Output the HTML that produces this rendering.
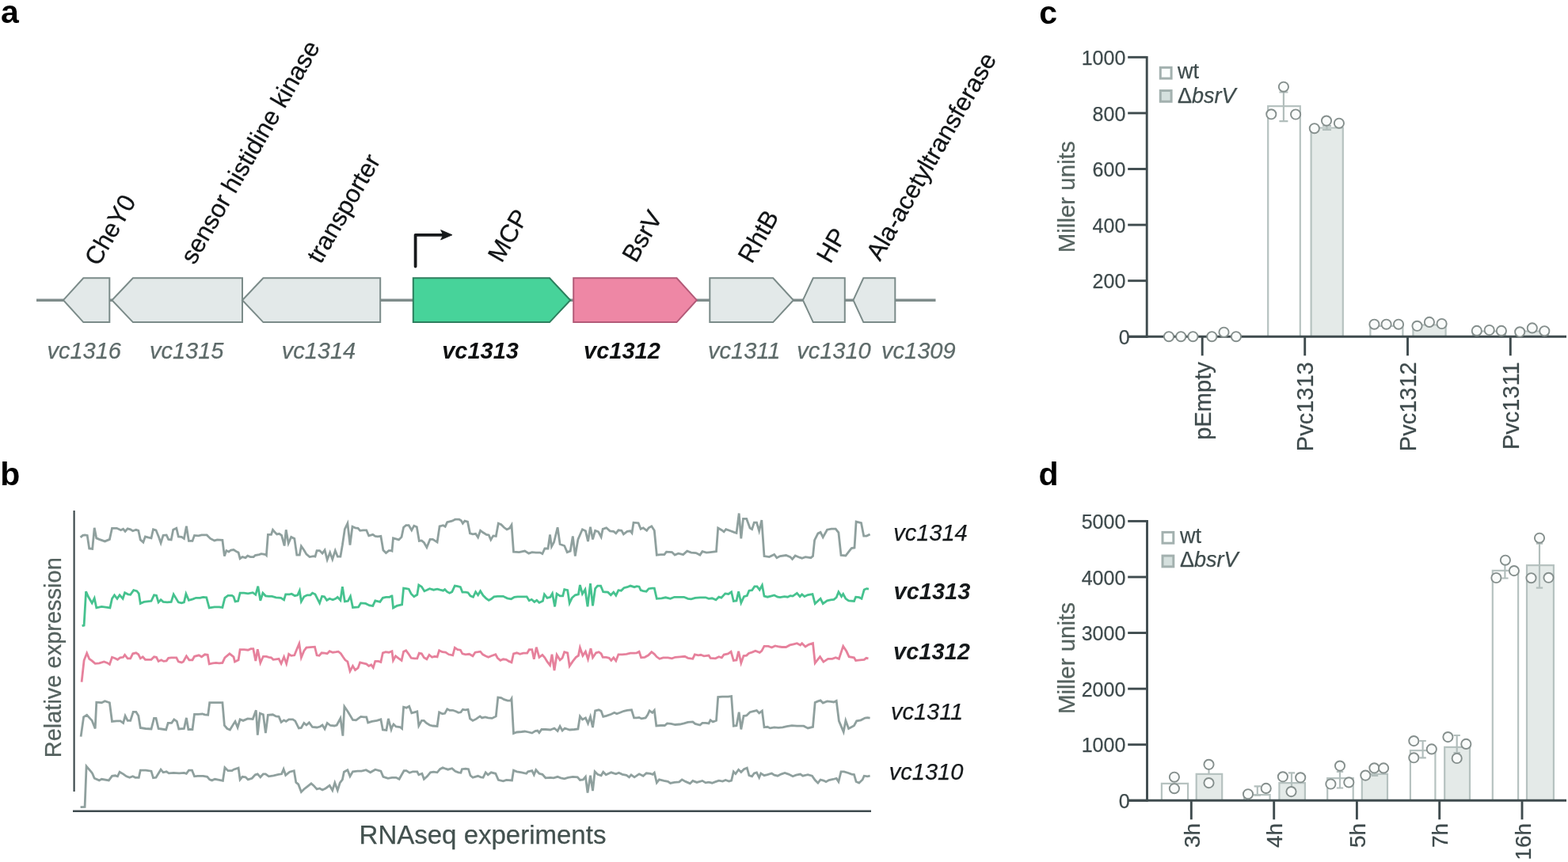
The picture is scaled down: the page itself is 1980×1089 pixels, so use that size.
<!DOCTYPE html>
<html><head><meta charset="utf-8"><title>Figure</title>
<style>
html,body{margin:0;padding:0;background:#fff;width:1980px;height:1089px;overflow:hidden;}
svg{display:block;}
text{font-family:'Liberation Sans', Arial, Helvetica, sans-serif;}
</style></head>
<body>
<svg width="1980" height="1089" viewBox="0 0 1980 1089">
<rect width="1980" height="1089" fill="#ffffff"/>
<text x="1.0" y="28.9" font-size="41" fill="#000" font-weight="bold">a</text>
<text x="0.2" y="612.9" font-size="41" fill="#000" font-weight="bold">b</text>
<text x="1312.3" y="29.9" font-size="41" fill="#000" font-weight="bold">c</text>
<text x="1311.5" y="612.9" font-size="41" fill="#000" font-weight="bold">d</text>
<line x1="46" y1="379.2" x2="1181.5" y2="379.2" stroke="#7f8c8b" stroke-width="3.6"/>
<polygon points="80,379.2 105.3,351.3 138.3,351.3 138.3,407.1 105.3,407.1" fill="#e3e9e9" stroke="#7b8b89" stroke-width="2" stroke-linejoin="miter"/>
<polygon points="141.4,379.2 167.9,351.3 306,351.3 306,407.1 167.9,407.1" fill="#e3e9e9" stroke="#7b8b89" stroke-width="2" stroke-linejoin="miter"/>
<polygon points="306,379.2 332.4,351.3 480.2,351.3 480.2,407.1 332.4,407.1" fill="#e3e9e9" stroke="#7b8b89" stroke-width="2" stroke-linejoin="miter"/>
<polygon points="521.8,351.3 694,351.3 720.2,379.2 694,407.1 521.8,407.1" fill="#47d39a" stroke="#2d7f5e" stroke-width="2" stroke-linejoin="miter"/>
<polygon points="724.2,351.3 854.5,351.3 879.8,379.2 854.5,407.1 724.2,407.1" fill="#ee87a5" stroke="#b35a78" stroke-width="2" stroke-linejoin="miter"/>
<polygon points="896.3,351.3 976.2,351.3 1001.9,379.2 976.2,407.1 896.3,407.1" fill="#e3e9e9" stroke="#7b8b89" stroke-width="2" stroke-linejoin="miter"/>
<polygon points="1013.9,379.2 1026.8,351.3 1066.8,351.3 1066.8,407.1 1026.8,407.1" fill="#e3e9e9" stroke="#7b8b89" stroke-width="2" stroke-linejoin="miter"/>
<polygon points="1077.5,379.2 1090.3,351.3 1130.3,351.3 1130.3,407.1 1090.3,407.1" fill="#e3e9e9" stroke="#7b8b89" stroke-width="2" stroke-linejoin="miter"/>
<polyline points="524.6,336.5 524.6,296.8 561,296.8" fill="none" stroke="#16191b" stroke-width="3.8" stroke-linecap="round" stroke-linejoin="round"/>
<polygon points="571,296.8 556.6,290.6 559.6,296.8 556.6,303.0" fill="#16191b" stroke="#16191b" stroke-width="0.8" stroke-linejoin="round"/>
<text x="106.2" y="452.5" font-size="29" fill="#5d6a69" stroke="#5d6a69" stroke-width="0.25" font-style="italic" text-anchor="middle">vc1316</text>
<text x="235.7" y="452.5" font-size="29" fill="#5d6a69" stroke="#5d6a69" stroke-width="0.25" font-style="italic" text-anchor="middle">vc1315</text>
<text x="402.5" y="452.5" font-size="29" fill="#5d6a69" stroke="#5d6a69" stroke-width="0.25" font-style="italic" text-anchor="middle">vc1314</text>
<text x="606.6" y="452.5" font-size="29" fill="#0d0f10" font-weight="bold" font-style="italic" text-anchor="middle">vc1313</text>
<text x="785.4" y="452.5" font-size="29" fill="#0d0f10" font-weight="bold" font-style="italic" text-anchor="middle">vc1312</text>
<text x="939.7" y="452.5" font-size="29" fill="#5d6a69" stroke="#5d6a69" stroke-width="0.25" font-style="italic" text-anchor="middle">vc1311</text>
<text x="1053.0" y="452.5" font-size="29" fill="#5d6a69" stroke="#5d6a69" stroke-width="0.25" font-style="italic" text-anchor="middle">vc1310</text>
<text x="1159.8" y="452.5" font-size="29" fill="#5d6a69" stroke="#5d6a69" stroke-width="0.25" font-style="italic" text-anchor="middle">vc1309</text>
<text x="124.3" y="337.5" font-size="31.5" fill="#111416" stroke="#111416" stroke-width="0.25" transform="rotate(-60 124.3 337.5)">CheY0</text>
<text x="245.4" y="335.4" font-size="31.5" fill="#111416" stroke="#111416" stroke-width="0.25" transform="rotate(-60 245.4 335.4)">sensor histidine kinase</text>
<text x="405.0" y="334.6" font-size="31.5" fill="#111416" stroke="#111416" stroke-width="0.25" transform="rotate(-60 405.0 334.6)">transporter</text>
<text x="633.5" y="333.3" font-size="31.5" fill="#111416" stroke="#111416" stroke-width="0.25" transform="rotate(-60 633.5 333.3)">MCP</text>
<text x="803.1" y="333.3" font-size="31.5" fill="#111416" stroke="#111416" stroke-width="0.25" transform="rotate(-60 803.1 333.3)">BsrV</text>
<text x="949.3" y="334.2" font-size="31.5" fill="#111416" stroke="#111416" stroke-width="0.25" transform="rotate(-60 949.3 334.2)">RhtB</text>
<text x="1048.5" y="334.2" font-size="31.5" fill="#111416" stroke="#111416" stroke-width="0.25" transform="rotate(-60 1048.5 334.2)">HP</text>
<text x="1111.2" y="330.9" font-size="31.5" fill="#111416" stroke="#111416" stroke-width="0.25" transform="rotate(-60 1111.2 330.9)">Ala-acetyltransferase</text>
<line x1="93.6" y1="645" x2="93.6" y2="1000" stroke="#3f4b4e" stroke-width="2.2"/>
<line x1="92" y1="1024.7" x2="1100" y2="1024.7" stroke="#3f4b4e" stroke-width="2.6"/>
<text x="77.3" y="957.3" font-size="29" fill="#55625f" stroke="#55625f" stroke-width="0.25" transform="rotate(-90 77.3 957.3)">Relative expression</text>
<text x="453.6" y="1066.4" font-size="33" fill="#43514f" stroke="#43514f" stroke-width="0.25">RNAseq experiments</text>
<text x="1128.2" y="683.3" font-size="29" fill="#15191b" stroke="#15191b" stroke-width="0.25" font-style="italic">vc1314</text>
<text x="1128.5" y="757.3" font-size="29" fill="#15191b" font-weight="bold" font-style="italic">vc1313</text>
<text x="1128.0" y="833.0" font-size="29" fill="#15191b" font-weight="bold" font-style="italic">vc1312</text>
<text x="1124.9" y="908.8" font-size="29" fill="#15191b" stroke="#15191b" stroke-width="0.25" font-style="italic">vc1311</text>
<text x="1122.8" y="984.6" font-size="29" fill="#15191b" stroke="#15191b" stroke-width="0.25" font-style="italic">vc1310</text>
<polyline points="101.6,678.9 104.6,676.4 107.1,675.9 110.2,676.4 112.7,693.0 116.7,693.5 119.2,666.8 121.8,679.9 125.3,681.4 132.4,683.9 138.4,681.4 141.5,667.3 147.5,667.3 152.6,669.8 155.6,668.3 158.1,671.3 161.2,667.8 164.7,668.8 167.7,670.8 171.8,669.3 174.8,670.3 177.3,681.9 180.9,685.0 183.4,677.9 186.9,678.9 191.0,679.9 193.5,668.8 197.0,669.8 200.1,677.4 203.1,686.0 206.1,676.4 210.2,675.9 212.7,681.4 216.2,681.9 218.7,669.3 222.8,667.3 225.3,677.9 229.3,678.4 232.4,680.4 235.4,664.8 238.4,683.4 243.0,683.4 245.5,676.4 250.6,676.9 254.6,675.9 257.6,675.9 261.2,675.9 265.7,680.4 270.8,682.9 274.3,681.9 280.9,682.4 283.4,702.6 285.9,695.6 288.9,697.1 291.5,695.0 295.0,694.5 299.0,697.1 301.1,698.1 303.1,705.7 306.1,703.6 310.1,704.6 312.7,702.1 316.2,703.6 320.2,703.6 322.3,701.6 327.3,700.6 329.9,699.6 335.4,700.6 336.4,701.6 338.4,675.4 342.5,675.4 344.5,669.3 347.5,672.8 349.6,674.9 352.6,674.3 355.6,676.4 359.1,689.5 361.2,669.3 364.2,686.5 367.7,678.4 371.8,680.4 374.8,701.1 378.3,701.1 380.4,690.0 383.9,695.0 386.9,700.1 391.0,703.6 396.0,702.6 398.0,703.1 400.1,695.6 403.6,695.6 407.1,699.1 410.1,695.0 413.2,707.2 416.7,698.1 419.8,706.7 423.3,695.6 426.3,703.1 429.9,703.1 432.4,688.5 435.4,668.3 438.9,661.2 442.0,688.5 445.0,665.2 448.5,666.8 452.1,667.3 454.6,670.3 458.6,669.8 462.7,669.8 465.7,676.9 470.8,675.4 473.8,677.4 476.8,677.9 480.9,677.4 483.9,695.0 487.4,698.6 491.0,695.6 494.0,695.6 495.0,696.1 496.5,679.9 500.1,680.9 503.6,681.9 507.1,678.4 509.6,666.3 512.7,663.7 516.2,663.7 519.8,669.8 522.8,664.2 526.3,665.8 529.3,683.4 532.4,682.9 535.4,685.5 538.9,691.5 543.0,681.4 546.5,681.4 552.1,685.0 555.1,664.8 559.6,663.7 562.2,665.2 564.7,659.7 570.8,658.2 574.8,656.2 579.9,656.2 582.4,657.7 584.4,661.2 586.9,658.2 590.5,659.2 593.5,673.8 597.0,674.9 600.6,674.3 603.6,678.9 606.6,670.3 610.1,672.8 614.2,675.4 617.2,675.9 619.8,681.9 622.8,676.9 626.3,677.4 629.3,661.2 632.9,662.7 636.4,666.3 640.0,668.8 643.5,667.3 646.0,663.2 648.5,697.1 655.6,697.6 662.7,696.1 667.7,699.1 671.8,697.6 676.8,698.1 681.9,698.1 684.9,699.6 687.9,693.0 692.0,693.0 694.5,675.4 695.0,679.4 696.5,690.5 699.5,685.0 704.1,666.3 707.1,687.5 712.7,689.5 716.2,697.6 720.2,696.1 723.3,677.4 726.3,702.6 729.9,681.4 735.4,668.8 739.4,670.8 742.5,683.9 745.5,665.8 748.5,681.4 751.6,670.3 755.6,671.8 759.1,678.4 761.2,668.3 765.7,666.8 770.2,670.8 774.8,671.3 777.8,673.8 780.9,669.8 784.9,670.3 787.4,674.9 792.0,671.3 796.0,670.8 798.0,673.3 800.0,660.2 806.1,660.7 809.1,668.3 812.2,666.8 816.7,670.3 819.2,666.8 822.8,664.8 826.3,670.3 829.3,701.1 834.4,700.6 838.9,700.6 841.5,697.1 848.5,697.6 852.1,701.1 856.6,699.1 862.7,700.6 867.7,696.1 872.8,698.1 878.8,698.6 883.9,701.1 886.9,696.6 892.0,698.1 895.0,697.8 899.2,697.3 904.5,696.7 906.7,667.0 911.4,669.7 914.1,671.8 916.7,668.6 922.6,670.8 926.8,672.4 930.0,673.4 933.2,648.5 935.8,680.3 938.5,655.4 942.7,655.4 947.0,667.0 949.6,668.6 952.3,660.1 955.5,660.1 958.6,670.8 961.8,657.0 965.0,702.6 971.4,703.6 977.7,700.5 980.9,704.7 985.1,702.6 992.6,701.5 997.9,703.6 1000.5,706.3 1004.2,702.0 1009.5,704.2 1012.7,705.2 1017.0,703.6 1023.9,704.7 1026.5,702.6 1028.6,682.4 1032.9,673.9 1036.1,672.4 1039.2,678.7 1044.5,669.2 1049.8,668.1 1055.2,668.1 1058.9,672.9 1062.0,701.5 1067.9,702.0 1073.2,695.1 1075.3,692.5 1079.0,692.0 1081.1,659.1 1087.5,660.7 1090.7,677.1 1094.4,677.1 1098.6,675.0" fill="none" stroke="#8fa09e" stroke-width="2.8" stroke-linejoin="miter" stroke-miterlimit="4"/>
<polyline points="103.6,790.7 106.1,790.1 108.6,747.2 111.2,753.3 116.2,761.9 119.2,755.8 121.8,767.9 128.3,766.4 135.4,767.4 138.9,767.9 141.5,756.3 144.5,751.8 148.0,756.3 151.1,751.8 155.1,756.3 157.6,748.7 161.7,750.8 164.7,751.3 168.7,745.7 172.8,746.7 175.3,749.8 177.3,762.4 181.9,760.4 185.9,759.9 191.0,759.3 194.5,751.8 197.5,752.3 200.1,760.9 203.1,757.8 206.1,760.4 211.2,760.9 216.2,760.4 219.2,750.8 225.3,760.9 229.3,761.9 232.4,760.9 234.9,750.2 238.4,758.3 243.5,756.8 247.5,755.3 252.6,755.3 256.6,754.3 260.7,754.8 264.2,767.9 270.8,766.9 276.8,766.9 280.9,767.4 283.9,755.3 287.9,752.3 293.0,752.3 295.0,753.8 297.0,759.9 300.6,759.3 303.1,749.2 308.1,749.2 313.2,749.8 319.2,748.7 322.8,751.3 325.8,740.7 328.8,758.8 331.9,749.2 335.4,752.8 339.4,753.3 343.5,753.3 348.5,754.8 354.6,755.3 358.6,757.8 360.7,750.8 365.7,750.8 368.2,750.2 372.3,752.8 375.8,751.8 378.3,746.2 380.4,759.9 383.9,753.8 387.9,751.8 392.0,751.8 394.5,749.2 398.0,750.8 403.6,761.9 406.6,753.3 409.6,753.8 412.7,758.3 416.2,756.3 420.2,757.8 423.8,756.3 426.3,754.3 429.9,758.3 432.4,741.2 435.4,759.9 439.4,759.3 442.5,753.3 445.5,767.4 452.6,766.9 455.6,761.9 461.7,762.4 466.7,764.9 470.8,765.4 473.8,758.8 479.9,760.4 483.4,755.3 487.4,754.3 492.0,754.3 494.5,752.8 495.0,752.8 496.5,767.9 501.1,765.4 505.1,764.4 507.6,763.9 509.6,743.2 513.2,743.7 516.2,744.2 519.2,750.2 522.8,753.8 526.8,751.3 528.8,739.1 532.4,741.2 535.9,746.7 539.4,745.2 542.5,743.7 547.5,745.2 552.1,744.2 555.6,745.2 559.6,746.2 561.7,744.7 564.7,747.7 567.7,749.2 570.8,747.7 574.3,740.1 577.8,740.7 581.4,741.7 583.9,748.2 587.9,748.2 591.0,748.7 594.0,752.8 597.5,754.3 600.6,747.7 603.6,751.8 606.6,746.7 610.1,752.3 613.7,755.8 617.2,758.3 620.2,756.8 623.8,753.8 628.3,753.3 635.4,753.3 640.5,755.8 645.5,756.8 649.5,754.3 653.6,753.8 658.6,753.8 665.2,753.8 668.2,758.8 671.3,757.3 674.8,760.4 677.8,758.3 680.9,761.4 685.4,759.3 687.4,750.8 691.0,755.3 695.0,754.3 697.5,749.8 700.6,766.4 703.1,750.2 707.1,752.8 710.7,752.8 712.7,744.7 716.7,745.7 719.2,761.9 722.3,755.3 726.3,751.8 730.4,750.8 732.4,739.1 735.4,750.2 738.9,744.7 742.0,766.4 745.5,737.1 748.5,765.4 751.6,743.7 754.6,740.1 758.6,740.1 761.7,747.7 767.7,748.2 771.3,751.8 774.8,748.2 777.8,752.3 780.9,745.7 784.4,746.2 787.9,742.7 792.0,741.7 796.0,740.1 801.1,741.7 804.1,740.7 807.1,741.2 809.1,745.7 812.2,746.7 816.2,747.2 819.2,743.7 823.3,743.2 826.3,743.2 829.3,756.3 835.4,755.8 840.5,754.8 846.5,756.3 851.6,754.3 857.6,754.3 863.7,754.3 868.7,756.3 872.8,756.8 877.8,755.3 883.9,754.8 891.0,754.8 895.0,756.3 899.2,755.8 904.0,757.9 907.7,754.2 910.9,755.2 915.7,749.9 919.9,750.5 923.6,747.8 926.3,759.5 930.0,758.9 932.6,747.3 935.8,761.6 939.5,753.6 943.3,752.6 945.9,746.2 949.6,745.7 952.8,740.9 956.0,740.9 959.2,745.1 962.4,739.3 965.0,753.1 969.2,754.2 973.5,753.1 977.7,752.0 982.0,754.2 985.1,754.7 990.5,753.6 994.7,754.2 997.9,752.6 1001.1,753.1 1006.4,749.4 1010.1,753.6 1012.7,751.0 1015.9,753.6 1020.1,751.5 1026.0,750.5 1029.2,762.6 1036.1,756.3 1039.2,762.6 1044.5,758.9 1048.8,757.9 1053.0,757.4 1056.2,754.7 1058.9,747.8 1062.6,753.6 1064.7,750.5 1067.9,756.3 1071.6,758.9 1078.5,759.5 1080.6,754.2 1084.8,754.7 1088.0,756.3 1091.2,745.1 1094.4,743.6 1097.0,744.1" fill="none" stroke="#46c28f" stroke-width="2.8" stroke-linejoin="miter" stroke-miterlimit="4"/>
<polyline points="103.1,861.6 106.1,834.3 109.7,825.2 112.7,832.3 116.2,834.9 120.2,838.4 125.3,837.9 131.4,835.9 135.4,837.4 138.4,839.4 141.5,830.3 145.5,831.8 148.5,833.3 151.6,830.8 155.6,830.3 157.6,827.3 161.2,831.8 164.7,831.8 167.7,825.8 171.8,824.8 174.8,826.8 177.3,831.8 180.3,829.8 183.4,833.3 186.9,833.3 191.0,833.3 194.5,829.8 197.5,830.3 200.1,835.4 203.6,833.8 206.6,835.4 210.2,834.9 212.7,831.3 216.2,830.8 222.8,830.8 225.3,835.9 229.3,836.9 231.4,835.9 235.4,828.8 238.9,833.8 243.0,833.8 245.5,829.3 251.1,827.8 254.6,829.8 258.6,826.8 262.2,827.3 264.2,838.9 268.7,837.9 272.8,837.4 276.8,837.9 280.9,837.4 283.9,830.8 289.9,825.8 295.0,829.8 296.5,835.9 301.1,833.8 303.1,820.7 308.1,820.7 313.2,821.2 316.7,819.7 319.8,819.7 322.8,834.9 325.3,820.2 328.8,837.4 332.4,829.3 336.4,829.3 339.4,830.3 342.5,830.8 345.0,833.3 348.5,832.8 352.1,832.3 355.1,838.4 358.6,829.8 361.7,838.4 364.7,826.3 367.7,828.3 371.8,827.8 374.8,820.2 377.8,813.1 380.4,830.8 383.9,822.2 386.9,818.2 392.0,817.7 397.5,817.2 400.1,827.8 403.1,828.3 406.1,824.8 410.1,825.2 413.2,825.8 416.2,822.7 420.2,824.2 424.3,823.7 427.3,823.2 430.4,825.8 433.4,830.3 435.9,833.8 438.9,835.9 442.0,848.0 445.5,841.4 448.5,846.5 452.1,843.9 454.6,836.9 458.6,837.9 462.7,838.9 465.7,841.4 468.7,839.9 471.3,843.4 473.8,835.4 477.8,835.4 480.9,836.4 483.4,824.8 486.9,823.7 491.0,824.2 495.0,822.7 496.5,834.3 499.6,828.8 503.6,831.8 507.1,834.3 509.6,823.2 512.7,821.7 515.7,825.8 519.2,831.3 523.3,831.8 526.8,831.8 529.3,825.2 532.4,825.8 535.4,830.8 538.9,832.8 542.0,827.3 545.5,830.3 549.0,829.3 552.1,829.8 554.6,821.7 558.6,823.7 562.7,824.2 566.7,826.8 571.8,827.8 574.3,818.2 577.8,820.7 581.4,821.2 583.9,825.8 587.9,826.8 592.5,826.3 597.0,828.8 600.0,824.2 603.6,823.7 606.6,823.2 609.6,826.8 613.2,828.8 616.7,830.3 620.2,828.8 625.8,826.8 628.3,831.3 631.9,834.3 635.4,832.8 639.4,833.3 642.5,835.4 646.0,836.9 648.5,825.8 652.6,824.8 656.6,826.3 660.7,825.2 665.7,825.2 668.2,820.7 671.8,820.7 674.3,832.8 677.3,817.7 680.9,830.3 684.9,827.3 687.9,830.8 691.0,835.9 694.5,840.4 697.0,826.8 700.0,847.0 703.1,827.3 707.1,833.8 710.1,831.3 712.7,823.7 716.7,824.8 719.2,841.4 723.3,835.4 727.3,830.3 730.4,828.3 732.4,818.2 735.9,828.3 739.4,823.2 742.5,832.8 746.0,819.2 748.5,830.8 752.6,824.8 756.1,823.7 759.1,825.8 761.2,830.3 765.7,830.3 769.2,831.3 771.8,834.3 774.8,830.8 777.8,834.9 780.9,826.8 785.9,826.8 791.0,826.3 796.0,825.2 801.1,825.2 804.1,824.8 807.1,823.2 809.6,830.8 814.2,830.3 818.7,827.8 822.8,823.7 826.3,826.3 829.3,829.8 832.9,832.3 837.4,830.8 843.5,830.8 848.5,831.8 852.6,830.3 858.6,829.8 864.7,829.3 868.7,831.3 874.8,832.3 877.3,826.8 881.9,827.8 884.9,827.3 888.9,828.8 895.0,828.1 897.1,831.3 903.5,831.8 907.7,829.7 911.4,830.8 914.1,827.0 919.4,826.0 923.1,823.3 926.3,834.5 930.0,833.9 932.6,822.8 935.8,837.6 939.0,828.6 942.7,828.1 945.4,825.5 950.1,823.9 953.9,822.3 959.2,824.4 961.8,822.3 965.0,816.4 970.3,816.4 974.5,818.0 978.8,815.9 984.1,817.0 987.3,817.5 992.6,817.5 997.4,814.9 1002.1,813.8 1006.4,812.7 1010.6,814.9 1012.7,812.7 1017.0,817.0 1021.2,814.3 1026.5,812.7 1029.2,837.6 1035.5,829.7 1039.8,836.1 1045.6,832.4 1050.9,832.4 1055.2,830.8 1059.4,832.4 1064.7,816.4 1068.9,822.8 1072.1,829.7 1078.5,830.8 1080.6,834.5 1085.9,833.9 1091.2,833.4 1093.9,831.3 1096.5,831.8" fill="none" stroke="#e6819c" stroke-width="2.8" stroke-linejoin="miter" stroke-miterlimit="4"/>
<polyline points="102.1,930.6 105.6,905.9 109.7,903.3 116.2,910.4 120.2,920.5 121.8,887.2 128.3,887.7 132.4,885.7 138.4,887.7 141.5,911.4 147.5,910.9 152.1,910.9 155.6,913.4 158.1,904.3 161.2,910.4 164.7,910.4 168.2,899.3 171.8,899.3 174.8,904.3 177.3,919.5 183.9,920.5 191.0,921.0 194.5,907.4 197.0,907.4 200.1,920.5 204.1,921.0 209.7,922.0 212.2,913.4 216.7,913.4 219.8,908.9 223.3,911.4 225.8,921.0 232.4,920.5 235.4,906.9 237.9,921.5 243.0,921.5 245.5,902.3 250.6,902.3 255.6,901.8 258.6,902.8 262.7,903.3 264.7,887.7 270.8,887.7 276.8,887.7 280.9,887.7 283.4,916.5 286.9,920.5 290.4,922.0 295.0,914.4 297.0,911.4 300.1,919.0 303.1,908.9 307.1,910.4 312.7,907.9 319.2,908.4 323.3,897.3 325.3,928.6 328.3,901.3 332.4,902.8 335.4,926.1 338.4,903.3 344.5,902.8 348.5,904.9 352.1,905.4 355.1,912.4 358.6,909.9 361.2,911.4 364.7,908.9 369.8,908.9 372.8,910.9 377.3,920.0 380.4,919.5 383.9,913.4 386.9,916.0 390.4,912.9 394.5,918.5 400.1,919.0 404.1,918.0 407.1,916.0 410.1,921.0 413.2,913.4 417.2,916.5 422.3,917.0 425.3,916.0 429.9,907.4 432.9,929.6 434.9,892.7 439.4,899.3 445.5,909.4 449.6,909.9 455.6,905.4 459.6,905.9 462.7,905.9 464.7,912.9 469.8,911.4 475.8,910.4 480.9,908.9 483.4,922.0 487.9,922.5 490.4,907.9 494.0,921.5 495.0,918.5 497.0,915.0 500.1,918.0 505.1,918.5 507.6,920.5 509.6,893.2 513.2,894.2 516.7,892.2 519.8,900.8 523.3,899.8 526.8,898.8 528.8,917.0 532.4,910.4 535.4,910.4 538.4,913.4 542.5,916.0 546.5,917.0 552.1,917.5 554.6,899.8 558.6,901.8 561.7,901.3 564.7,895.8 567.7,897.3 571.8,897.3 575.8,898.8 578.8,900.3 581.9,899.8 584.4,896.3 587.4,896.8 591.0,896.3 593.5,907.9 597.0,910.4 601.1,908.4 606.1,904.9 608.6,906.9 612.7,905.9 616.2,906.9 621.3,907.4 626.3,904.9 628.8,881.1 632.9,881.6 636.4,883.6 641.0,885.1 644.5,885.1 646.0,882.6 648.5,926.6 652.6,925.0 658.6,924.5 662.7,924.0 667.7,925.0 671.8,926.1 675.8,923.5 678.8,923.0 680.9,925.6 683.9,921.5 688.9,921.5 695.0,922.0 700.0,920.0 704.1,923.5 707.1,917.5 710.1,923.0 713.2,920.0 719.2,922.0 725.3,921.5 729.9,921.0 732.4,904.9 735.4,908.9 739.4,906.9 742.5,913.9 745.5,905.4 748.5,919.0 751.6,897.8 756.1,896.8 759.1,898.3 761.7,905.4 765.7,904.3 771.8,902.3 775.8,900.3 778.8,901.8 782.9,900.3 787.9,898.3 792.0,897.3 797.5,896.8 800.6,906.9 804.1,906.9 807.1,906.4 810.1,907.9 815.2,906.9 817.7,903.3 820.2,897.8 823.8,900.3 826.3,897.3 828.8,917.0 834.4,916.5 839.4,916.5 842.5,913.9 847.5,914.4 852.6,915.5 858.6,915.0 863.7,913.9 868.7,912.4 874.8,911.9 877.8,914.4 883.9,916.0 886.9,913.4 891.0,913.4 895.0,914.0 897.1,909.8 900.3,911.9 904.5,910.3 906.7,880.6 912.0,880.1 919.4,880.1 923.6,879.5 926.3,917.2 930.0,916.7 933.2,899.7 935.8,921.4 939.0,904.5 942.7,903.9 947.0,899.7 951.2,898.6 955.5,897.6 958.6,900.8 962.4,898.1 965.0,918.8 969.2,918.3 972.4,919.9 977.7,918.8 983.0,919.3 988.3,918.8 993.6,917.7 1000.0,916.7 1006.4,917.2 1014.9,917.2 1020.1,919.9 1026.5,918.3 1029.2,887.5 1032.9,885.9 1036.1,884.9 1039.2,888.0 1044.5,885.9 1048.8,886.4 1053.0,887.0 1056.2,885.4 1059.4,910.8 1065.2,924.6 1067.9,910.3 1071.6,920.4 1078.5,916.7 1081.7,910.8 1087.0,909.8 1092.3,907.1 1095.5,906.6 1098.6,907.1" fill="none" stroke="#8fa09e" stroke-width="2.8" stroke-linejoin="miter" stroke-miterlimit="4"/>
<polyline points="101.6,1019.7 107.1,1019.5 109.1,968.2 115.2,975.2 116.7,977.3 119.2,983.3 125.3,985.9 128.3,984.3 137.4,985.9 141.5,980.3 145.5,979.8 148.5,980.8 151.1,975.2 155.6,977.8 159.7,980.8 163.7,982.3 167.7,980.8 170.8,982.3 175.3,982.3 177.3,973.2 183.9,973.2 191.0,974.2 193.5,982.8 197.0,982.3 203.1,972.2 206.1,975.8 210.2,974.8 213.2,976.8 219.2,976.3 226.3,976.8 232.4,976.3 235.4,977.3 238.4,973.2 242.5,973.2 245.5,980.8 249.6,980.3 256.6,980.3 261.7,981.3 264.7,984.9 267.7,985.9 271.3,984.3 276.8,985.4 281.4,986.4 283.9,969.7 287.9,973.7 293.0,973.7 295.0,972.2 301.1,970.2 303.1,984.9 306.1,981.3 310.1,981.8 313.2,984.9 318.2,983.3 322.3,978.8 325.3,977.8 328.8,981.8 332.4,977.8 335.4,977.8 339.4,980.8 345.5,979.8 351.6,978.3 355.6,977.8 358.1,971.7 360.7,979.3 365.7,975.2 371.3,973.7 373.8,988.4 376.8,990.9 380.4,1000.5 383.9,997.0 387.9,993.9 393.0,989.9 396.0,992.4 400.1,997.0 403.6,996.0 407.1,998.0 411.2,996.0 416.2,992.4 419.8,998.5 422.8,988.9 426.3,998.5 429.3,988.9 432.4,984.9 434.4,975.2 438.9,972.7 442.0,980.8 445.5,974.8 451.6,974.2 456.6,974.2 462.2,972.7 467.7,975.8 473.8,972.2 480.9,974.2 483.9,981.3 489.9,983.3 495.0,982.3 500.1,982.3 504.1,984.3 510.1,973.7 513.2,973.7 517.2,976.3 521.3,974.8 526.8,974.8 528.8,978.8 532.9,977.3 535.4,984.3 539.4,980.8 543.5,975.8 547.5,975.2 552.1,975.8 555.6,971.7 559.1,969.7 562.7,971.2 565.7,972.2 570.8,970.7 574.8,974.2 578.8,975.8 581.9,976.3 583.4,971.7 587.9,971.2 591.5,971.7 594.0,979.8 597.0,982.3 600.0,981.3 603.6,980.3 607.1,981.8 610.1,982.3 613.2,975.8 616.2,978.8 620.2,975.8 625.8,977.3 629.3,985.4 635.4,986.9 639.4,985.4 646.5,985.9 648.5,973.2 652.6,974.8 658.6,975.8 664.7,977.3 666.7,974.8 671.8,973.7 674.3,978.8 676.8,972.7 680.9,977.3 684.9,978.3 688.9,982.8 695.0,982.3 699.0,982.8 704.1,981.3 708.1,982.8 712.7,983.8 717.2,982.3 723.3,981.3 729.3,981.8 732.4,985.4 736.4,984.9 739.4,981.3 742.0,1001.5 745.5,979.8 748.5,999.0 751.1,974.8 754.6,978.3 759.1,979.8 761.7,975.2 765.2,978.8 771.8,975.8 777.8,977.8 781.4,976.3 785.9,978.3 791.0,979.3 794.5,981.8 797.0,978.8 801.1,981.8 807.1,977.8 812.2,980.3 816.2,976.8 821.3,977.3 824.3,978.3 826.3,976.3 829.3,988.9 832.4,984.9 838.4,986.4 843.5,987.4 846.5,989.4 851.6,988.4 857.6,987.9 861.2,984.9 865.7,987.4 871.3,989.9 874.8,986.4 879.9,988.4 886.9,986.4 891.0,988.9 895.0,988.2 899.2,989.2 903.5,987.6 907.7,986.1 912.5,987.1 916.2,985.5 920.5,987.1 923.6,986.1 926.3,974.9 928.9,977.6 932.6,972.3 935.8,975.5 939.5,971.7 943.3,970.1 945.9,979.7 949.6,980.8 952.3,977.0 955.5,976.0 958.6,982.4 960.8,977.0 965.0,979.7 969.2,978.6 974.5,977.0 977.7,979.2 982.0,980.2 986.2,978.1 991.0,976.5 995.8,978.1 1001.1,980.8 1005.3,979.2 1010.6,978.1 1013.8,980.2 1020.1,978.6 1025.5,980.2 1029.2,985.5 1032.9,989.2 1036.1,985.0 1039.8,986.1 1043.0,987.6 1046.7,985.5 1052.0,984.5 1056.2,983.4 1058.9,987.6 1062.0,974.9 1065.8,974.9 1071.1,976.5 1075.3,978.1 1078.5,978.6 1081.1,987.6 1084.8,989.2 1089.1,985.0 1091.2,980.2 1095.5,980.8 1098.6,980.2" fill="none" stroke="#8fa09e" stroke-width="2.8" stroke-linejoin="miter" stroke-miterlimit="4"/>
<path d="M1601.2,425.3 L1601.2,134.2 L1641.8,134.2 L1641.8,425.3" fill="#fff" stroke="#b6c2c0" stroke-width="2.2"/>
<path d="M1655.6,425.3 L1655.6,161.5 L1695.8,161.5 L1695.8,425.3" fill="#e4eae8" stroke="#b6c2c0" stroke-width="2.2"/>
<path d="M1730.4,425.3 L1730.4,411.8 L1771.4,411.8 L1771.4,425.3" fill="#fff" stroke="#b6c2c0" stroke-width="2.2"/>
<path d="M1784.4,425.3 L1784.4,410.5 L1825.6,410.5 L1825.6,425.3" fill="#e4eae8" stroke="#b6c2c0" stroke-width="2.2"/>
<path d="M1860,425.3 L1860,418.5 L1900.8,418.5 L1900.8,425.3" fill="#fff" stroke="#b6c2c0" stroke-width="2.2"/>
<path d="M1914,425.3 L1914,418.5 L1955,418.5 L1955,425.3" fill="#e4eae8" stroke="#b6c2c0" stroke-width="2.2"/>
<path d="M1466.9,1011.3 L1466.9,989.8 L1500.1,989.8 L1500.1,1011.3" fill="#fff" stroke="#b6c2c0" stroke-width="2.2"/>
<path d="M1510.7,1011.3 L1510.7,977.8 L1543.2,977.8 L1543.2,1011.3" fill="#e4eae8" stroke="#b6c2c0" stroke-width="2.2"/>
<path d="M1571.2,1011.3 L1571.2,1004.2 L1603.6,1004.2 L1603.6,1011.3" fill="#fff" stroke="#b6c2c0" stroke-width="2.2"/>
<path d="M1615.4,1011.3 L1615.4,989.1 L1647.9,989.1 L1647.9,1011.3" fill="#e4eae8" stroke="#b6c2c0" stroke-width="2.2"/>
<path d="M1676.2,1011.3 L1676.2,983.2 L1708.7,983.2 L1708.7,1011.3" fill="#fff" stroke="#b6c2c0" stroke-width="2.2"/>
<path d="M1719.8,1011.3 L1719.8,977.8 L1752,977.8 L1752,1011.3" fill="#e4eae8" stroke="#b6c2c0" stroke-width="2.2"/>
<path d="M1780.9,1011.3 L1780.9,948.1 L1812.4,948.1 L1812.4,1011.3" fill="#fff" stroke="#b6c2c0" stroke-width="2.2"/>
<path d="M1824.2,1011.3 L1824.2,943.8 L1856,943.8 L1856,1011.3" fill="#e4eae8" stroke="#b6c2c0" stroke-width="2.2"/>
<path d="M1884.8,1011.3 L1884.8,720.8 L1917.1,720.8 L1917.1,1011.3" fill="#fff" stroke="#b6c2c0" stroke-width="2.2"/>
<path d="M1928,1011.3 L1928,714.2 L1961.9,714.2 L1961.9,1011.3" fill="#e4eae8" stroke="#b6c2c0" stroke-width="2.2"/>
<line x1="1448.2" y1="70.9" x2="1448.2" y2="426.7" stroke="#3f4b4e" stroke-width="2.9"/>
<line x1="1424.2" y1="72.30000000000001" x2="1448.2" y2="72.30000000000001" stroke="#3f4b4e" stroke-width="2.9"/>
<text x="1421.3" y="81.9" font-size="25" fill="#3e4a4c" stroke="#3e4a4c" stroke-width="0.25" text-anchor="end">1000</text>
<line x1="1424.2" y1="142.90000000000003" x2="1448.2" y2="142.90000000000003" stroke="#3f4b4e" stroke-width="2.9"/>
<text x="1421.3" y="152.5" font-size="25" fill="#3e4a4c" stroke="#3e4a4c" stroke-width="0.25" text-anchor="end">800</text>
<line x1="1424.2" y1="213.50000000000003" x2="1448.2" y2="213.50000000000003" stroke="#3f4b4e" stroke-width="2.9"/>
<text x="1421.3" y="223.1" font-size="25" fill="#3e4a4c" stroke="#3e4a4c" stroke-width="0.25" text-anchor="end">600</text>
<line x1="1424.2" y1="284.1" x2="1448.2" y2="284.1" stroke="#3f4b4e" stroke-width="2.9"/>
<text x="1421.3" y="293.7" font-size="25" fill="#3e4a4c" stroke="#3e4a4c" stroke-width="0.25" text-anchor="end">400</text>
<line x1="1424.2" y1="354.70000000000005" x2="1448.2" y2="354.70000000000005" stroke="#3f4b4e" stroke-width="2.9"/>
<text x="1421.3" y="364.3" font-size="25" fill="#3e4a4c" stroke="#3e4a4c" stroke-width="0.25" text-anchor="end">200</text>
<line x1="1424.2" y1="425.3" x2="1448.2" y2="425.3" stroke="#3f4b4e" stroke-width="2.9"/>
<text x="1426.6" y="434.9" font-size="25" fill="#3e4a4c" stroke="#3e4a4c" stroke-width="0.25" text-anchor="end">0</text>
<line x1="1424.2" y1="425.3" x2="1978" y2="425.3" stroke="#3f4b4e" stroke-width="2.9"/>
<line x1="1518.2" y1="425.3" x2="1518.2" y2="449.3" stroke="#3f4b4e" stroke-width="2.9"/>
<text x="1528.8" y="457.3" font-size="29" fill="#3e4a4c" stroke="#3e4a4c" stroke-width="0.25" text-anchor="end" transform="rotate(-90 1528.8 457.3)">pEmpty</text>
<line x1="1647.7" y1="425.3" x2="1647.7" y2="449.3" stroke="#3f4b4e" stroke-width="2.9"/>
<text x="1658.3" y="457.3" font-size="29" fill="#3e4a4c" stroke="#3e4a4c" stroke-width="0.25" text-anchor="end" transform="rotate(-90 1658.3 457.3)">Pvc1313</text>
<line x1="1777.5" y1="425.3" x2="1777.5" y2="449.3" stroke="#3f4b4e" stroke-width="2.9"/>
<text x="1788.1" y="457.3" font-size="29" fill="#3e4a4c" stroke="#3e4a4c" stroke-width="0.25" text-anchor="end" transform="rotate(-90 1788.1 457.3)">Pvc1312</text>
<line x1="1907.3" y1="425.3" x2="1907.3" y2="449.3" stroke="#3f4b4e" stroke-width="2.9"/>
<text x="1917.9" y="457.3" font-size="29" fill="#3e4a4c" stroke="#3e4a4c" stroke-width="0.25" text-anchor="end" transform="rotate(-90 1917.9 457.3)">Pvc1311</text>
<text x="1356.6" y="248.8" font-size="29.5" fill="#55625f" stroke="#55625f" stroke-width="0.25" text-anchor="middle" transform="rotate(-90 1356.6 248.8)">Miller units</text>
<rect x="1465.3" y="85.3" width="13.8" height="13.8" fill="#fbfefd" stroke="#a3b1af" stroke-width="3"/>
<rect x="1465.3" y="114.5" width="13.8" height="13.8" fill="#d5e0de" stroke="#a3b1af" stroke-width="3"/>
<text x="1487.0" y="99.2" font-size="27" fill="#3f4c4d" stroke="#3f4c4d" stroke-width="0.25">wt</text>
<text x="1487.0" y="129.5" font-size="27" fill="#3f4c4d" stroke="#3f4c4d" stroke-width="0.25">&#916;<tspan font-style="italic">bsrV</tspan></text>
<path d="M1620.9,153.1 L1620.9,116.5 M1615.4,153.1 L1626.4,153.1 M1615.4,116.5 L1626.4,116.5" fill="none" stroke="#b2bebc" stroke-width="2.2"/>
<circle cx="1620.9" cy="109.7" r="6.1" fill="#fafcfb" stroke="#858f8d" stroke-width="1.9"/>
<circle cx="1605.3" cy="144.3" r="6.1" fill="#fafcfb" stroke="#858f8d" stroke-width="1.9"/>
<circle cx="1636.1" cy="144.5" r="6.1" fill="#fafcfb" stroke="#858f8d" stroke-width="1.9"/>
<path d="M1675.5,164 L1675.5,159 M1670.0,164 L1681.0,164 M1670.0,159 L1681.0,159" fill="none" stroke="#b2bebc" stroke-width="2.2"/>
<circle cx="1659.8" cy="162.2" r="6.1" fill="#fafcfb" stroke="#858f8d" stroke-width="1.9"/>
<circle cx="1675" cy="152.6" r="6.1" fill="#fafcfb" stroke="#858f8d" stroke-width="1.9"/>
<circle cx="1690.9" cy="155.7" r="6.1" fill="#fafcfb" stroke="#858f8d" stroke-width="1.9"/>
<circle cx="1735.4" cy="409.7" r="6.1" fill="#fafcfb" stroke="#858f8d" stroke-width="1.9"/>
<circle cx="1750.6" cy="409.7" r="6.1" fill="#fafcfb" stroke="#858f8d" stroke-width="1.9"/>
<circle cx="1766" cy="409.7" r="6.1" fill="#fafcfb" stroke="#858f8d" stroke-width="1.9"/>
<circle cx="1789.5" cy="411.8" r="6.1" fill="#fafcfb" stroke="#858f8d" stroke-width="1.9"/>
<circle cx="1804.9" cy="406.9" r="6.1" fill="#fafcfb" stroke="#858f8d" stroke-width="1.9"/>
<circle cx="1820.6" cy="409" r="6.1" fill="#fafcfb" stroke="#858f8d" stroke-width="1.9"/>
<circle cx="1864.8" cy="417.9" r="6.1" fill="#fafcfb" stroke="#858f8d" stroke-width="1.9"/>
<circle cx="1880.7" cy="417" r="6.1" fill="#fafcfb" stroke="#858f8d" stroke-width="1.9"/>
<circle cx="1895.9" cy="417.9" r="6.1" fill="#fafcfb" stroke="#858f8d" stroke-width="1.9"/>
<circle cx="1919.2" cy="419.3" r="6.1" fill="#fafcfb" stroke="#858f8d" stroke-width="1.9"/>
<circle cx="1934.8" cy="414.4" r="6.1" fill="#fafcfb" stroke="#858f8d" stroke-width="1.9"/>
<circle cx="1950.3" cy="418.2" r="6.1" fill="#fafcfb" stroke="#858f8d" stroke-width="1.9"/>
<circle cx="1476" cy="425.2" r="6.1" fill="#fafcfb" stroke="#858f8d" stroke-width="1.9"/>
<circle cx="1491.2" cy="425.2" r="6.1" fill="#fafcfb" stroke="#858f8d" stroke-width="1.9"/>
<circle cx="1506.4" cy="425.2" r="6.1" fill="#fafcfb" stroke="#858f8d" stroke-width="1.9"/>
<circle cx="1530.3" cy="425.2" r="6.1" fill="#fafcfb" stroke="#858f8d" stroke-width="1.9"/>
<circle cx="1545.5" cy="419.7" r="6.1" fill="#fafcfb" stroke="#858f8d" stroke-width="1.9"/>
<circle cx="1560.9" cy="425.2" r="6.1" fill="#fafcfb" stroke="#858f8d" stroke-width="1.9"/>
<line x1="1448.5" y1="657.0" x2="1448.5" y2="1012.6999999999999" stroke="#3f4b4e" stroke-width="2.9"/>
<line x1="1424.2" y1="658.4" x2="1448.5" y2="658.4" stroke="#3f4b4e" stroke-width="2.9"/>
<text x="1421.3" y="668.0" font-size="25" fill="#3e4a4c" stroke="#3e4a4c" stroke-width="0.25" text-anchor="end">5000</text>
<line x1="1424.2" y1="728.98" x2="1448.5" y2="728.98" stroke="#3f4b4e" stroke-width="2.9"/>
<text x="1421.3" y="738.6" font-size="25" fill="#3e4a4c" stroke="#3e4a4c" stroke-width="0.25" text-anchor="end">4000</text>
<line x1="1424.2" y1="799.56" x2="1448.5" y2="799.56" stroke="#3f4b4e" stroke-width="2.9"/>
<text x="1421.3" y="809.2" font-size="25" fill="#3e4a4c" stroke="#3e4a4c" stroke-width="0.25" text-anchor="end">3000</text>
<line x1="1424.2" y1="870.14" x2="1448.5" y2="870.14" stroke="#3f4b4e" stroke-width="2.9"/>
<text x="1421.3" y="879.7" font-size="25" fill="#3e4a4c" stroke="#3e4a4c" stroke-width="0.25" text-anchor="end">2000</text>
<line x1="1424.2" y1="940.7199999999999" x2="1448.5" y2="940.7199999999999" stroke="#3f4b4e" stroke-width="2.9"/>
<text x="1421.3" y="950.3" font-size="25" fill="#3e4a4c" stroke="#3e4a4c" stroke-width="0.25" text-anchor="end">1000</text>
<line x1="1424.2" y1="1011.3" x2="1448.5" y2="1011.3" stroke="#3f4b4e" stroke-width="2.9"/>
<text x="1426.6" y="1020.9" font-size="25" fill="#3e4a4c" stroke="#3e4a4c" stroke-width="0.25" text-anchor="end">0</text>
<line x1="1424.2" y1="1011.3" x2="1978" y2="1011.3" stroke="#3f4b4e" stroke-width="2.9"/>
<line x1="1504.3" y1="1011.3" x2="1504.3" y2="1035.3" stroke="#3f4b4e" stroke-width="2.9"/>
<text x="1514.9" y="1039.9" font-size="28" fill="#3e4a4c" stroke="#3e4a4c" stroke-width="0.25" text-anchor="end" transform="rotate(-90 1514.9 1039.9)">3h</text>
<line x1="1608.7" y1="1011.3" x2="1608.7" y2="1035.3" stroke="#3f4b4e" stroke-width="2.9"/>
<text x="1619.3" y="1039.9" font-size="28" fill="#3e4a4c" stroke="#3e4a4c" stroke-width="0.25" text-anchor="end" transform="rotate(-90 1619.3 1039.9)">4h</text>
<line x1="1713.4" y1="1011.3" x2="1713.4" y2="1035.3" stroke="#3f4b4e" stroke-width="2.9"/>
<text x="1724.0" y="1039.9" font-size="28" fill="#3e4a4c" stroke="#3e4a4c" stroke-width="0.25" text-anchor="end" transform="rotate(-90 1724.0 1039.9)">5h</text>
<line x1="1817.7" y1="1011.3" x2="1817.7" y2="1035.3" stroke="#3f4b4e" stroke-width="2.9"/>
<text x="1828.3" y="1039.9" font-size="28" fill="#3e4a4c" stroke="#3e4a4c" stroke-width="0.25" text-anchor="end" transform="rotate(-90 1828.3 1039.9)">7h</text>
<line x1="1922" y1="1011.3" x2="1922" y2="1035.3" stroke="#3f4b4e" stroke-width="2.9"/>
<text x="1932.6" y="1039.9" font-size="28" fill="#3e4a4c" stroke="#3e4a4c" stroke-width="0.25" text-anchor="end" transform="rotate(-90 1932.6 1039.9)">16h</text>
<text x="1356.6" y="831.5" font-size="29.5" fill="#55625f" stroke="#55625f" stroke-width="0.25" text-anchor="middle" transform="rotate(-90 1356.6 831.5)">Miller units</text>
<rect x="1468.0" y="672.4" width="13.8" height="13.8" fill="#fbfefd" stroke="#a3b1af" stroke-width="3"/>
<rect x="1468.0" y="702.1" width="13.8" height="13.8" fill="#d5e0de" stroke="#a3b1af" stroke-width="3"/>
<text x="1490.0" y="686.1" font-size="27" fill="#3f4c4d" stroke="#3f4c4d" stroke-width="0.25">wt</text>
<text x="1490.0" y="716.4" font-size="27" fill="#3f4c4d" stroke="#3f4c4d" stroke-width="0.25">&#916;<tspan font-style="italic">bsrV</tspan></text>
<circle cx="1482.9" cy="981.7" r="6.1" fill="#fafcfb" stroke="#858f8d" stroke-width="1.9"/>
<circle cx="1482.9" cy="996.2" r="6.1" fill="#fafcfb" stroke="#858f8d" stroke-width="1.9"/>
<line x1="1526.5" y1="970" x2="1526.5" y2="978" stroke="#b2bebc" stroke-width="2.2"/>
<circle cx="1526.5" cy="965.8" r="6.1" fill="#fafcfb" stroke="#858f8d" stroke-width="1.9"/>
<circle cx="1526.5" cy="989.1" r="6.1" fill="#fafcfb" stroke="#858f8d" stroke-width="1.9"/>
<path d="M1587.8,1004.7 L1587.8,993.3 M1583.6,1004.7 L1592.0,1004.7 M1583.6,993.3 L1592.0,993.3" fill="none" stroke="#b2bebc" stroke-width="2.2"/>
<circle cx="1576" cy="1003.2" r="6.1" fill="#fafcfb" stroke="#858f8d" stroke-width="1.9"/>
<circle cx="1598.7" cy="995.9" r="6.1" fill="#fafcfb" stroke="#858f8d" stroke-width="1.9"/>
<path d="M1631,1000 L1631,976.4 M1626.8,1000 L1635.2,1000 M1626.8,976.4 L1635.2,976.4" fill="none" stroke="#b2bebc" stroke-width="2.2"/>
<circle cx="1619.9" cy="981.3" r="6.1" fill="#fafcfb" stroke="#858f8d" stroke-width="1.9"/>
<circle cx="1642.2" cy="982.3" r="6.1" fill="#fafcfb" stroke="#858f8d" stroke-width="1.9"/>
<circle cx="1630.5" cy="1000.1" r="6.1" fill="#fafcfb" stroke="#858f8d" stroke-width="1.9"/>
<path d="M1692,995.5 L1692,975 M1687.8,995.5 L1696.2,995.5 M1687.8,975 L1696.2,975" fill="none" stroke="#b2bebc" stroke-width="2.2"/>
<circle cx="1692" cy="967.6" r="6.1" fill="#fafcfb" stroke="#858f8d" stroke-width="1.9"/>
<circle cx="1680.4" cy="990.5" r="6.1" fill="#fafcfb" stroke="#858f8d" stroke-width="1.9"/>
<circle cx="1703.3" cy="988.4" r="6.1" fill="#fafcfb" stroke="#858f8d" stroke-width="1.9"/>
<path d="M1736,980 L1736,975 M1731.8,980 L1740.2,980 M1731.8,975 L1740.2,975" fill="none" stroke="#b2bebc" stroke-width="2.2"/>
<circle cx="1724.3" cy="979.6" r="6.1" fill="#fafcfb" stroke="#858f8d" stroke-width="1.9"/>
<circle cx="1735.4" cy="970.3" r="6.1" fill="#fafcfb" stroke="#858f8d" stroke-width="1.9"/>
<circle cx="1747.1" cy="970.4" r="6.1" fill="#fafcfb" stroke="#858f8d" stroke-width="1.9"/>
<path d="M1796.6,957.3 L1796.6,936 M1792.3999999999999,957.3 L1800.8,957.3 M1792.3999999999999,936 L1800.8,936" fill="none" stroke="#b2bebc" stroke-width="2.2"/>
<circle cx="1785.3" cy="936.1" r="6.1" fill="#fafcfb" stroke="#858f8d" stroke-width="1.9"/>
<circle cx="1785.3" cy="957.3" r="6.1" fill="#fafcfb" stroke="#858f8d" stroke-width="1.9"/>
<circle cx="1807.8" cy="946.4" r="6.1" fill="#fafcfb" stroke="#858f8d" stroke-width="1.9"/>
<path d="M1839.7,951 L1839.7,929 M1835.5,951 L1843.9,951 M1835.5,929 L1843.9,929" fill="none" stroke="#b2bebc" stroke-width="2.2"/>
<circle cx="1828.4" cy="931.1" r="6.1" fill="#fafcfb" stroke="#858f8d" stroke-width="1.9"/>
<circle cx="1851.3" cy="939.9" r="6.1" fill="#fafcfb" stroke="#858f8d" stroke-width="1.9"/>
<circle cx="1839.7" cy="958" r="6.1" fill="#fafcfb" stroke="#858f8d" stroke-width="1.9"/>
<path d="M1900.4,730.5 L1900.4,712 M1896.2,730.5 L1904.6000000000001,730.5 M1896.2,712 L1904.6000000000001,712" fill="none" stroke="#b2bebc" stroke-width="2.2"/>
<circle cx="1900.9" cy="707.7" r="6.1" fill="#fafcfb" stroke="#858f8d" stroke-width="1.9"/>
<circle cx="1889.4" cy="730" r="6.1" fill="#fafcfb" stroke="#858f8d" stroke-width="1.9"/>
<circle cx="1911.9" cy="721.1" r="6.1" fill="#fafcfb" stroke="#858f8d" stroke-width="1.9"/>
<path d="M1944,742.6 L1944,686.6 M1939.8,742.6 L1948.2,742.6 M1939.8,686.6 L1948.2,686.6" fill="none" stroke="#b2bebc" stroke-width="2.2"/>
<circle cx="1944" cy="679.7" r="6.1" fill="#fafcfb" stroke="#858f8d" stroke-width="1.9"/>
<circle cx="1933.5" cy="730.2" r="6.1" fill="#fafcfb" stroke="#858f8d" stroke-width="1.9"/>
<circle cx="1955.5" cy="729.8" r="6.1" fill="#fafcfb" stroke="#858f8d" stroke-width="1.9"/>
</svg>
</body></html>
